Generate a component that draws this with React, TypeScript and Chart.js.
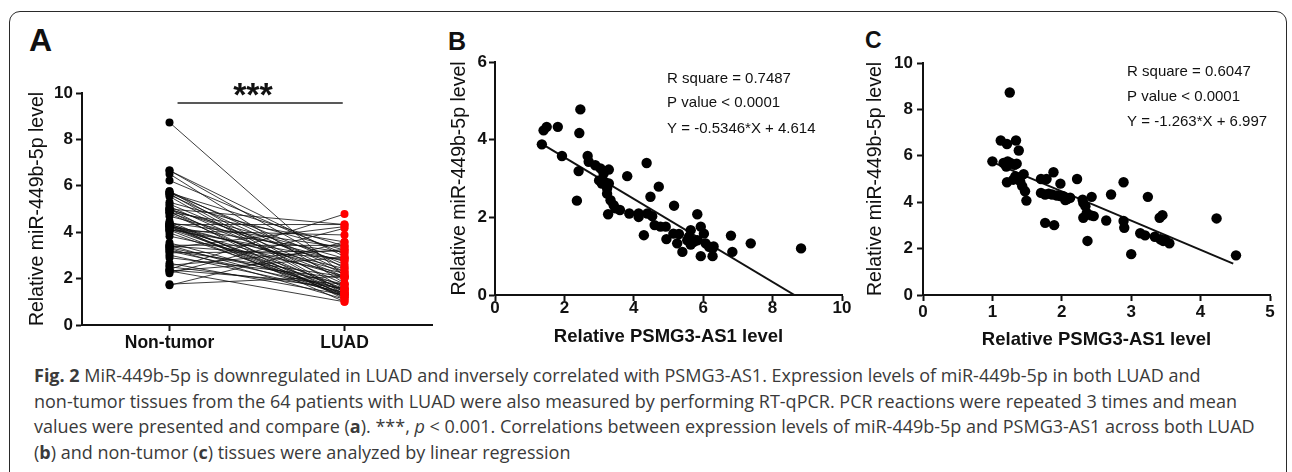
import React, { useEffect, useRef } from 'react';
import { Chart, registerables } from 'chart.js';

Chart.register(...registerables);

// ---------- Data ----------
const groupLabels = ['Non-tumor', 'LUAD'];

// Panel A: paired values (same patient index)
const nonTumorLevels = [
  8.73, 6.66, 6.66, 6.51, 6.23, 5.76, 5.76, 5.69, 5.69, 5.66, 5.61, 5.54, 5.29, 5.21, 5.11, 5.0,
  5.0, 5.0, 4.97, 4.9, 4.86, 4.86, 4.8, 4.69, 4.47, 4.4, 4.37, 4.33, 4.33, 4.33, 4.29, 4.26,
  4.26, 4.23, 4.23, 4.19, 4.14, 4.11, 4.09, 4.07, 3.97, 3.83, 3.54, 3.44, 3.43, 3.4, 3.33, 3.33,
  3.3, 3.21, 3.19, 3.11, 3.01, 2.9, 2.66, 2.57, 2.51, 2.4, 2.37, 2.33, 2.33, 2.23, 1.76, 1.71,
];
const luadLevels = [
  2.1, 2.95, 2.44, 1.8, 3.06, 2.3, 1.58, 3.4, 2.61, 1.41, 2.19, 1.33, 3.23, 2.08, 1.76, 4.33,
  2.53, 1.25, 2.87, 1.11, 3.58, 2.03, 1.5, 2.74, 1.2, 3.34, 1.44, 4.33, 2.31, 1.0, 1.67, 2.43,
  1.33, 3.13, 1.24, 2.1, 1.57, 2.79, 1.2, 3.88, 1.37, 2.23, 1.53, 3.43, 1.33, 2.87, 1.76, 4.24,
  1.11, 2.08, 1.54, 3.19, 1.41, 2.01, 1.3, 3.26, 1.58, 4.78, 1.76, 2.91, 1.0, 4.17, 2.1, 3.58,
];

// Panel B: LUAD tissues
const luadPsmg3 = [
  1.35, 1.4, 1.49, 1.81, 1.93, 2.46, 2.43, 2.41, 2.36, 2.67, 2.7, 2.89, 3.04, 3.28, 3.13, 3.16,
  3.08, 3.23, 3.28, 3.23, 3.33, 3.42, 3.47, 3.6, 3.26, 3.81, 3.87, 4.14, 4.14, 4.37, 4.29, 4.48,
  4.39, 4.53, 4.72, 4.77, 4.92, 4.94, 5.16, 5.14, 5.3, 5.25, 5.4, 5.59, 5.64, 5.73, 5.83, 5.93,
  6.02, 5.93, 6.07, 6.17, 6.27, 6.27, 6.8, 6.84, 7.37, 8.82, 5.83, 5.54, 6.3, 5.64, 3.0, 4.6,
];
const luadMir = [
  3.88, 4.24, 4.33, 4.33, 3.58, 4.78, 4.17, 3.19, 2.43, 3.58, 3.43, 3.34, 3.26, 3.23, 3.13, 2.91,
  2.87, 2.74, 2.87, 2.61, 2.44, 2.31, 2.23, 2.19, 2.08, 3.06, 2.1, 2.1, 2.01, 3.4, 1.54, 2.53,
  2.1, 2.03, 2.79, 1.76, 1.76, 1.44, 2.3, 1.58, 1.57, 1.33, 1.11, 1.5, 1.67, 1.37, 2.08, 1.76,
  1.58, 1.0, 1.33, 1.24, 1.2, 1.0, 1.53, 1.11, 1.33, 1.2, 1.41, 1.41, 1.25, 1.3, 2.95, 1.8,
];
const fitBX = [1.35, 8.63];
const fitBY = [3.89, 0];

// Panel C: non-tumor tissues
const nonTumorPsmg3 = [
  1.25, 1.0, 1.12, 1.21, 1.34, 1.38, 1.22, 1.26, 1.32, 1.2, 1.21, 1.33, 1.45, 1.4, 1.43, 1.47,
  1.49, 1.7, 1.78, 1.88, 1.7, 1.76, 1.86, 1.98, 1.93, 2.02, 2.05, 2.12, 2.22, 1.76, 1.89, 2.3,
  2.34, 2.43, 2.36, 2.31, 2.46, 2.37, 2.64, 2.71, 2.89, 2.89, 2.9, 3.0, 3.13, 3.2, 3.24, 3.34,
  3.42, 3.46, 3.55, 3.41, 3.45, 4.23, 4.51, 1.16, 2.31, 2.08, 1.3, 3.49, 2.42, 1.98, 1.35, 1.81,
];
const nonTumorMir = [
  8.73, 5.76, 6.66, 6.51, 6.66, 6.23, 5.76, 5.69, 5.61, 5.54, 4.86, 5.11, 5.21, 4.9, 4.69, 4.47,
  4.07, 5.0, 5.0, 5.29, 4.4, 4.33, 4.33, 4.8, 4.29, 4.26, 4.09, 4.19, 5.0, 3.11, 3.01, 4.11,
  3.83, 4.23, 3.54, 3.33, 3.4, 2.33, 3.21, 4.33, 4.86, 3.19, 2.9, 1.76, 2.66, 2.57, 4.23, 2.51,
  2.4, 2.33, 2.23, 3.33, 3.44, 3.3, 1.71, 5.69, 3.97, 4.14, 4.97, 2.37, 3.43, 4.26, 5.66, 4.37,
];
const fitCX = [1.0, 4.47];
const fitCY = [5.73, 1.35];

const statsB = ['R square = 0.7487', 'P value < 0.0001', 'Y = -0.5346*X + 4.614'];
const statsC = ['R square = 0.6047', 'P value < 0.0001', 'Y = -1.263*X + 6.997'];

// ---------- Styling helpers ----------
const FONT = '"Liberation Sans", Arial, Helvetica, sans-serif';
const INK = '#111';

function yAxis(opts: any) {
  return {
    type: 'linear',
    min: opts.min,
    max: opts.max,
    ticks: {
      stepSize: opts.step,
      font: { family: FONT, size: opts.tickSize, weight: 700, lineHeight: 1.2 },
      color: INK,
      padding: opts.tickPad,
    },
    grid: {
      drawOnChartArea: false,
      drawTicks: true,
      tickLength: 6,
      tickWidth: 2,
      tickColor: INK,
    },
    border: { display: true, color: INK, width: 2 },
    title: {
      display: true,
      text: 'Relative miR-449b-5p level',
      color: INK,
      font: { family: FONT, size: 19.5, weight: 'normal', lineHeight: 1.2 },
      padding: { top: opts.titlePad, bottom: 0 },
    },
    afterFit: (s: any) => {
      s.width = opts.width;
    },
  };
}

function xLinearAxis(opts: any) {
  return {
    type: 'linear',
    min: opts.min,
    max: opts.max,
    ticks: {
      stepSize: opts.step,
      font: { family: FONT, size: 17, weight: 700, lineHeight: 1.2 },
      color: INK,
      padding: opts.tickPad,
    },
    grid: {
      drawOnChartArea: false,
      drawTicks: true,
      tickLength: 6,
      tickWidth: 2,
      tickColor: INK,
    },
    border: { display: true, color: INK, width: 2 },
    title: {
      display: true,
      text: 'Relative PSMG3-AS1 level',
      color: INK,
      font: { family: FONT, size: 18.5, weight: 'bold', lineHeight: 1.2 },
      padding: { top: 0, bottom: opts.titlePad },
    },
    afterFit: (s: any) => {
      s.height = opts.height;
    },
  };
}

const statsPlugin = {
  id: 'statsText',
  afterDraw(chart: any, _args: any, o: any) {
    if (!o || !o.lines) return;
    const { ctx, scales } = chart;
    ctx.save();
    ctx.fillStyle = INK;
    ctx.font = `normal 15px ${FONT}`;
    ctx.textAlign = 'left';
    ctx.textBaseline = 'middle';
    const x = scales.x.getPixelForValue(o.x);
    o.lines.forEach((t: string, i: number) => {
      ctx.fillText(t, x, scales.y.getPixelForValue(o.ys[i]));
    });
    ctx.restore();
  },
};

const sigPlugin = {
  id: 'sigBar',
  afterDraw(chart: any, _args: any, o: any) {
    if (!o || !o.on) return;
    const { ctx, scales } = chart;
    const x1 = scales.x.getPixelForValue(o.from);
    const x2 = scales.x.getPixelForValue(o.to);
    const y = scales.y.getPixelForValue(o.y);
    ctx.save();
    ctx.strokeStyle = '#222';
    ctx.lineWidth = 1.5;
    ctx.beginPath();
    ctx.moveTo(x1, y);
    ctx.lineTo(x2, y);
    ctx.stroke();
    ctx.fillStyle = INK;
    ctx.font = `bold 34px ${FONT}`;
    ctx.textAlign = 'center';
    ctx.textBaseline = 'middle';
    ctx.fillText(o.text, scales.x.getPixelForValue(o.textX), scales.y.getPixelForValue(o.textY) + 7);
    ctx.restore();
  },
};

// ---------- Components ----------
function useChart(ref: React.RefObject<HTMLCanvasElement | null>, make: () => any) {
  useEffect(() => {
    if (!ref.current) return;
    const chart = new Chart(ref.current, make());
    return () => chart.destroy();
  }, []);
}

function PanelA() {
  const ref = useRef<HTMLCanvasElement | null>(null);
  useChart(ref, () => {
    const pairSets = nonTumorLevels.map((v, i) => ({
      type: 'line',
      data: [
        { x: groupLabels[0], y: v },
        { x: groupLabels[1], y: luadLevels[i] },
      ],
      borderColor: 'rgba(15,15,15,0.9)',
      borderWidth: 0.9,
      pointRadius: 0,
      fill: false,
    }));
    return {
      type: 'line',
      data: {
        labels: groupLabels,
        datasets: [
          {
            label: 'Non-tumor',
            data: nonTumorLevels.map((v) => ({ x: groupLabels[0], y: v })),
            showLine: false,
            pointRadius: 4,
            pointBackgroundColor: '#000',
            pointBorderColor: '#000',
            pointBorderWidth: 0,
          },
          {
            label: 'LUAD',
            data: luadLevels.map((v) => ({ x: groupLabels[1], y: v })),
            showLine: false,
            pointRadius: 4,
            pointBackgroundColor: '#ff0000',
            pointBorderColor: '#ff0000',
            pointBorderWidth: 0,
          },
          ...pairSets,
        ],
      },
      options: {
        animation: false,
        responsive: false,
        events: [],
        layout: { padding: { top: 43, right: 18, left: 0, bottom: 0 } },
        plugins: {
          legend: { display: false },
          tooltip: { enabled: false },
          sigBar: { on: true, from: 0.046, to: 0.99, y: 9.57, text: '***', textX: 0.477, textY: 10.13 },
        },
        scales: {
          x: {
            type: 'category',
            offset: true,
            ticks: {
              font: { family: FONT, size: 17.5, weight: 700, lineHeight: 1.2 },
              color: INK,
              padding: 1.5,
            },
            grid: {
              offset: false,
              drawOnChartArea: false,
              drawTicks: true,
              tickLength: 6,
              tickWidth: 2,
              tickColor: INK,
            },
            border: { display: true, color: INK, width: 2 },
            afterFit: (s: any) => {
              s.height = 35;
            },
          },
          y: yAxis({ min: 0, max: 10, step: 2, tickSize: 17, tickPad: 3, titlePad: 26.3, width: 82 }),
        },
      },
      plugins: [sigPlugin],
    };
  });
  return (
    <canvas
      ref={ref}
      width={450}
      height={310}
      style={{ position: 'absolute', left: 0, top: 50, width: 450, height: 310 }}
    />
  );
}

function ScatterPanel(props: {
  xs: number[];
  ys: number[];
  fitX: number[];
  fitY: number[];
  stats: string[];
  left: number;
  width: number;
  yMax: number;
  xMax: number;
  xStep: number;
  padTop: number;
  padRight: number;
  yWidth: number;
  yTitlePad: number;
  xTitlePad: number;
  xTickPad: number;
  yTickPad: number;
  statX: number;
  statYs: number[];
}) {
  const ref = useRef<HTMLCanvasElement | null>(null);
  useChart(ref, () => ({
    type: 'scatter',
    data: {
      datasets: [
        {
          label: 'samples',
          data: props.xs.map((x, i) => ({ x, y: props.ys[i] })),
          pointRadius: 5.2,
          pointBackgroundColor: '#000',
          pointBorderColor: '#000',
          pointBorderWidth: 0,
        },
        {
          label: 'fit',
          type: 'line',
          data: props.fitX.map((x, i) => ({ x, y: props.fitY[i] })),
          borderColor: INK,
          borderWidth: 2,
          pointRadius: 0,
          showLine: true,
          fill: false,
        },
      ],
    },
    options: {
      animation: false,
      responsive: false,
      events: [],
      layout: { padding: { top: props.padTop, right: props.padRight, left: 0, bottom: 0 } },
      plugins: {
        legend: { display: false },
        tooltip: { enabled: false },
        statsText: { lines: props.stats, x: props.statX, ys: props.statYs },
      },
      scales: {
        x: xLinearAxis({ min: 0, max: props.xMax, step: props.xStep, tickPad: props.xTickPad, titlePad: props.xTitlePad, height: 60 }),
        y: yAxis({ min: 0, max: props.yMax, step: 2, tickSize: 17, tickPad: props.yTickPad, titlePad: props.yTitlePad, width: props.yWidth }),
      },
    },
    plugins: [statsPlugin],
  }));
  return (
    <canvas
      ref={ref}
      width={props.width}
      height={315}
      style={{ position: 'absolute', left: props.left, top: 40, width: props.width, height: 315 }}
    />
  );
}

const panelLetter = (text: string, left: number, top: number, size: number) => (
  <div
    style={{
      position: 'absolute',
      left,
      top,
      fontFamily: FONT,
      fontWeight: 'bold',
      fontSize: size,
      lineHeight: 1,
      color: INK,
    }}
  >
    {text}
  </div>
);

export default function App() {
  const captionStyle: React.CSSProperties = {
    position: 'absolute',
    left: 34,
    top: 363,
    fontFamily: '"Open Sans", "Noto Sans", sans-serif',
    fontSize: 18,
    lineHeight: '25.7px',
    color: '#3a3a3a',
    whiteSpace: 'nowrap',
  };
  return (
    <div
      style={{
        position: 'absolute',
        left: 0,
        top: 0,
        width: 1292,
        height: 472,
        overflow: 'hidden',
        background: '#fff',
      }}
    >
      <div
        style={{
          position: 'absolute',
          left: 9,
          top: 11,
          width: 1278,
          height: 500,
          border: '1.5px solid #2a2a2a',
          borderRadius: 11,
          boxSizing: 'border-box',
        }}
      />
      {panelLetter('A', 29, 24, 32)}
      {panelLetter('B', 448, 28.7, 25)}
      {panelLetter('C', 865, 29, 23)}
      <PanelA />
      <ScatterPanel
        xs={luadPsmg3}
        ys={luadMir}
        fitX={fitBX}
        fitY={fitBY}
        stats={statsB}
        left={435}
        width={420}
        yMax={6}
        xMax={10}
        xStep={2}
        padTop={22}
        padRight={13}
        yWidth={60}
        yTitlePad={13.3}
        xTitlePad={6.9}
        xTickPad={-2.6}
        yTickPad={2}
        statX={4.96}
        statYs={[5.56, 4.94, 4.29]}
      />
      <ScatterPanel
        xs={nonTumorPsmg3}
        ys={nonTumorMir}
        fitX={fitCX}
        fitY={fitCY}
        stats={statsC}
        left={855}
        width={430}
        yMax={10}
        xMax={5}
        xStep={1}
        padTop={23}
        padRight={15}
        yWidth={68}
        yTitlePad={9.3}
        xTitlePad={3.9}
        xTickPad={1.4}
        yTickPad={4}
        statX={2.94}
        statYs={[9.6, 8.53, 7.46]}
      />
      <div style={captionStyle}>
        <div>
          <b>Fig. 2</b> MiR-449b-5p is downregulated in LUAD and inversely correlated with PSMG3-AS1. Expression levels of
          miR-449b-5p in both LUAD and
        </div>
        <div>
          non-tumor tissues from the 64 patients with LUAD were also measured by performing RT-qPCR. PCR reactions were
          repeated 3 times and mean
        </div>
        <div>
          values were presented and compare (<b>a</b>). ***, <i>p</i> &lt; 0.001. Correlations between expression levels of
          miR-449b-5p and PSMG3-AS1 across both LUAD
        </div>
        <div>
          (<b>b</b>) and non-tumor (<b>c</b>) tissues were analyzed by linear regression
        </div>
      </div>
    </div>
  );
}
